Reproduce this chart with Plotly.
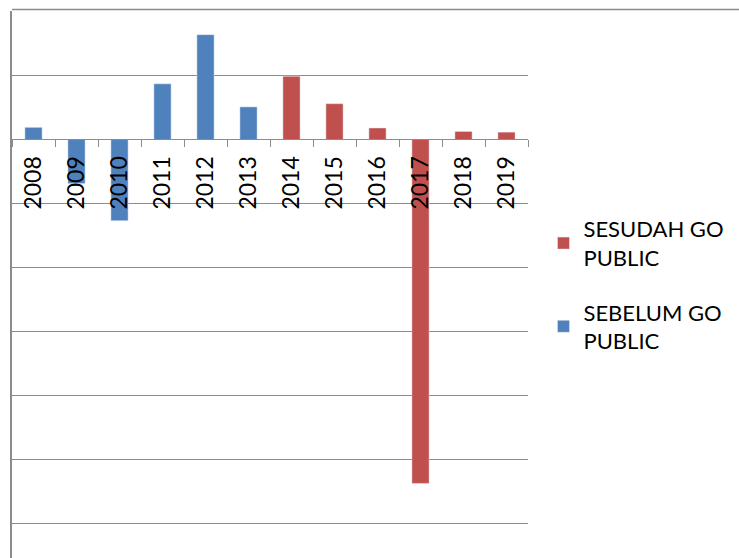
import plotly.graph_objects as go

years = ["2008", "2009", "2010", "2011", "2012", "2013", "2014", "2015", "2016", "2017", "2018", "2019"]
sebelum = [0.19, -0.69, -1.27, 0.87, 1.64, 0.51, None, None, None, None, None, None]
sesudah = [None, None, None, None, None, None, 0.99, 0.56, 0.18, -5.38, 0.126, 0.115]

W, H = 739, 558
ML, MR, MT, MB = 12, 211, 11, 0
plot_h = H - MT - MB
y_top = 2.0
y_bot = -(H - 139) / ((139 - MT) / y_top)
zero_frac = (0 - y_bot) / (y_top - y_bot)

BLUE = "#4F81BD"
RED = "#C0504D"
GRID = "#8C8C8C"

fig = go.Figure()
fig.add_trace(go.Bar(x=years, y=sesudah, name="SESUDAH GO<br>PUBLIC", marker_color=RED,
                     legendgroup="a"))
fig.add_trace(go.Bar(x=years, y=sebelum, name="SEBELUM GO<br>PUBLIC", marker_color=BLUE,
                     legendgroup="b"))

fig.update_layout(
    width=W, height=H,
    margin=dict(l=ML, r=MR, t=MT, b=MB, pad=0),
    paper_bgcolor="white", plot_bgcolor="white",
    barmode="relative", bargap=0.6,
    font=dict(family="Lato, Liberation Sans, sans-serif", color="black"),
    showlegend=True,
    legend=dict(x=1.03, xanchor="left", y=1 - (208 - MT) / plot_h, yanchor="top",
                font=dict(size=22, family="Lato, sans-serif", color="black"),
                tracegroupgap=23, traceorder="grouped", bgcolor="rgba(0,0,0,0)"),
    xaxis=dict(type="category", anchor="free", position=zero_frac,
               showline=True, linecolor=GRID, linewidth=1,
               ticks="outside", ticklen=7, tickcolor=GRID, tickwidth=1,
               tickson="boundaries", tickangle=-90, ticklabelstandoff=7,
               tickfont=dict(size=23, family="Lato, sans-serif", color="black"),
               showgrid=False, zeroline=False),
    yaxis=dict(range=[y_bot, y_top + 0.01], dtick=1, tick0=0, showticklabels=False,
               showgrid=True, gridcolor=GRID, gridwidth=1,
               zeroline=False, showline=True, linecolor=GRID, linewidth=2,
               ticks=""),
)

fig.add_shape(type="line", xref="paper", yref="paper",
              x0=0, x1=(W - ML) / (W - ML - MR), y0=1 + 1.5 / plot_h, y1=1 + 1.5 / plot_h,
              line=dict(color=GRID, width=1.5))

fig.write_html("out.html", config={"displayModeBar": False},
               post_script="document.body.style.margin='0';document.body.style.padding='0';"
                           "document.body.style.overflow='hidden';")
